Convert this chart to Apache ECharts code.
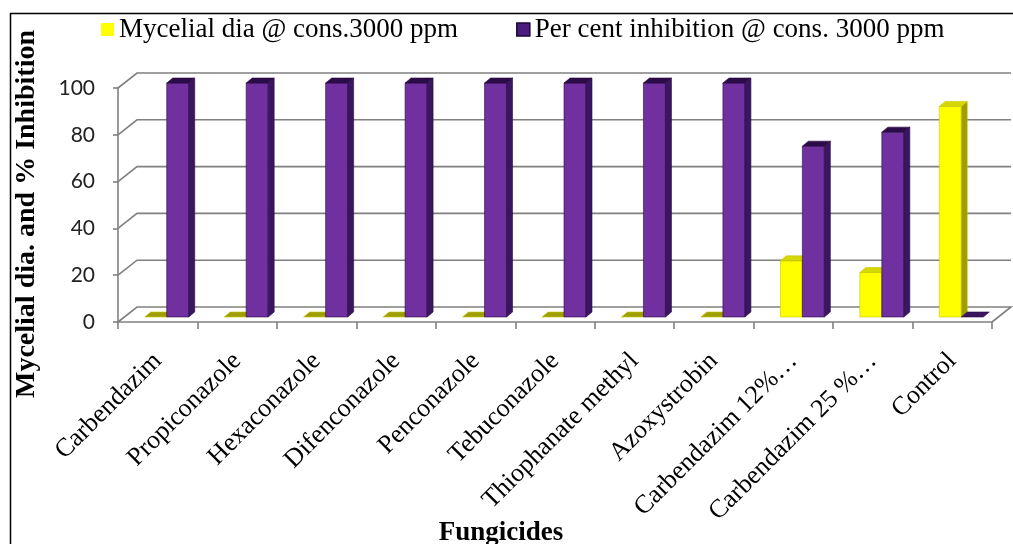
<!DOCTYPE html>
<html>
<head>
<meta charset="utf-8">
<script src="https://cdn.jsdelivr.net/npm/echarts@6/dist/echarts.min.js"></script>
<style>
html,body{margin:0;padding:0;background:#fff;}
#chart{width:1013px;height:544px;}
</style>
</head>
<body>
<div id="chart"></div>
<script>
const categories = ['Carbendazim','Propiconazole','Hexaconazole','Difenconazole','Penconazole','Tebuconazole','Thiophanate methyl','Azoxystrobin','Carbendazim 12%…','Carbendazim 25 %…','Control'];
const mycelialDia = [0,0,0,0,0,0,0,0,24,19,90];
const perCentInhibition = [100,100,100,100,100,100,100,100,73,79,0];
const yTicks = [0,20,40,60,80,100];
const seriesNames = ['Mycelial dia @ cons.3000 ppm','Per cent inhibition @ cons. 3000 ppm'];

const WALL_DX = 19, WALL_DY = -15;
const BAR_SHIFT_X = 9, BAR_SHIFT_Y = -5, BAR_W = 22, BAR_DX = 6, BAR_DY = -5;
const palettes = [
  {front:'#FFFF00', side:'#9E9E00', top:'#D6D600', stroke:'#C8C800'},
  {front:'#7030A0', side:'#3A1660', top:'#2C0C48', stroke:'#2A0A44'}
];

function barRenderer(k){
  return function(params, api){
    const cat = api.value(0), v = api.value(1);
    const topPt = api.coord([cat, v]);
    const basePt = api.coord([cat, 0]);
    const cx = topPt[0] + BAR_SHIFT_X;
    const x = k === 0 ? cx - BAR_W : cx;
    const yb = basePt[1] + BAR_SHIFT_Y, yt = topPt[1] + BAR_SHIFT_Y;
    const p = palettes[k];
    const children = [];
    if (yb - yt > 0.5) {
      children.push({type:'rect', shape:{x:x, y:yt, width:BAR_W, height:yb-yt}, style:{fill:p.front, stroke:p.stroke, lineWidth:0.6}});
      children.push({type:'polygon', shape:{points:[[x+BAR_W,yt],[x+BAR_W+BAR_DX,yt+BAR_DY],[x+BAR_W+BAR_DX,yb+BAR_DY],[x+BAR_W,yb]]}, style:{fill:p.side, stroke:p.stroke, lineWidth:0.6}});
    }
    children.push({type:'polygon', shape:{points:[[x,yt],[x+BAR_DX,yt+BAR_DY],[x+BAR_W+BAR_DX,yt+BAR_DY],[x+BAR_W,yt]]}, style:{fill:(yb-yt>0.5)?p.top:p.side, stroke:p.stroke, lineWidth:0.6}});
    return {type:'group', children:children};
  };
}

function gridRenderer(params, api){
  const cs = params.coordSys;
  const x0 = cs.x, x1 = cs.x + cs.width;
  const v = api.value(0);
  const y = api.coord([0, v])[1];
  const pts = [[x0,y],[x0+WALL_DX,y+WALL_DY],[x1+WALL_DX,y+WALL_DY]];
  if (v === 0) pts.push([x1, y]);
  return {type:'polyline', shape:{points:pts}, style:{stroke:'#808080', lineWidth:1.6, fill:null}};
}

const chart = echarts.init(document.getElementById('chart'), null, {renderer:'canvas'});
chart.setOption({
  backgroundColor:'#ffffff',
  animation:false,
  graphic:[{type:'rect', left:8, top:11, shape:{width:1030, height:600}, style:{fill:null, stroke:'#000', lineWidth:1.5}, silent:true}],
  legend:{
    data:[
      {name:seriesNames[0], itemStyle:{color:'#FFFF00'}},
      {name:seriesNames[1], itemStyle:{color:'#4B1C80', borderColor:'#1A0633', borderWidth:1.5}}
    ],
    left:96, top:11, icon:'rect', itemWidth:13, itemHeight:13, itemGap:58,
    textStyle:{fontFamily:'Liberation Serif', fontSize:27, color:'#000'}
  },
  grid:{left:118, right:21, top:88, bottom:222, containLabel:false, outerBoundsMode:'none'},
  xAxis:{
    type:'category', data:categories,
    name:'Fungicides', nameLocation:'middle', nameGap:198, nameMoveOverlap:false,
    nameTextStyle:{fontFamily:'Liberation Serif', fontSize:27, fontWeight:'bold', color:'#000', padding:[0,108,0,0]},
    axisLine:{show:true, lineStyle:{color:'#808080', width:1.6}},
    axisTick:{show:true, length:7, lineStyle:{color:'#808080', width:1.6}},
    axisLabel:{rotate:45, margin:35, interval:0, fontFamily:'Liberation Serif', fontSize:26, color:'#000'}
  },
  yAxis:{
    type:'value', min:0, max:100, interval:20,
    name:'Mycelial dia. and % Inhibition', nameLocation:'middle', nameRotate:90, nameGap:77, nameMoveOverlap:false,
    nameTextStyle:{fontFamily:'Liberation Serif', fontSize:28, fontWeight:'bold', color:'#000', padding:[0,18,0,0]},
    axisLine:{show:true, lineStyle:{color:'#808080', width:1.6}},
    axisTick:{show:true, length:5, lineStyle:{color:'#808080', width:1.6}},
    splitLine:{show:false},
    axisLabel:{margin:23, fontFamily:'Lato', fontSize:21, color:'#222'}
  },
  series:[
    {type:'custom', name:'grid3d', renderItem:gridRenderer, data:yTicks.map(v=>[v]), encode:{y:0}, z:1, silent:true, legendHoverLink:false, tooltip:{show:false}},
    {type:'custom', name:seriesNames[0], renderItem:barRenderer(0), itemStyle:{color:'#FFFF00'}, data:mycelialDia.map((v,i)=>[i,v]), encode:{x:0,y:1}, z:2},
    {type:'custom', name:seriesNames[1], renderItem:barRenderer(1), itemStyle:{color:'#4B1C80'}, data:perCentInhibition.map((v,i)=>[i,v]), encode:{x:0,y:1}, z:3}
  ]
});
</script>
</body>
</html>
